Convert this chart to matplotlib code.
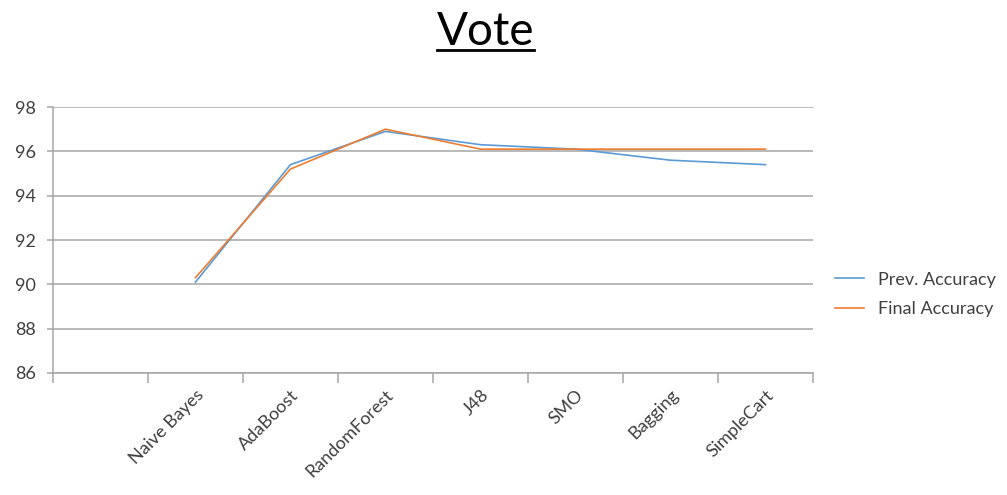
import matplotlib
matplotlib.use("Agg")
import matplotlib.pyplot as plt
from matplotlib.lines import Line2D

plt.rcParams['font.family'] = ['Lato', 'DejaVu Sans']

# classifier accuracies
classifiers = ['Naive Bayes', 'AdaBoost', 'RandomForest', 'J48', 'SMO', 'Bagging', 'SimpleCart']
prev_acc = [90.1, 95.4, 96.9, 96.3, 96.1, 95.6, 95.4]
final_acc = [90.3, 95.2, 97.0, 96.1, 96.1, 96.1, 96.1]
y_ticks = [86, 88, 90, 92, 94, 96, 98]

blue = '#5B9BD5'
orange = '#ED7D31'
grid_col = '#A6A6A6'
text_col = '#404040'

fig = plt.figure(figsize=(10.07, 4.95), dpi=100)
ax = fig.add_axes([0.0526, 0.2465, 0.7547, 0.5373])

# first category slot is left empty, data sits in slots 1..7
xs = [i + 1.5 for i in range(len(classifiers))]
ax.plot(xs, prev_acc, color=blue, lw=1.2, label='Prev. Accuracy')
ax.plot(xs, final_acc, color=orange, lw=1.2, label='Final Accuracy')

ax.set_xlim(0, len(classifiers) + 1)
ax.set_ylim(86, 98)
ax.set_yticks(y_ticks)
ax.set_yticklabels([str(v) for v in y_ticks], fontsize=13, color=text_col)
ax.yaxis.grid(True, color=grid_col, lw=1.1)
ax.set_axisbelow(True)

ax.set_xticks(range(len(classifiers) + 2))
ax.set_xticklabels([])
ax.set_xticks(xs, minor=True)
ax.set_xticklabels(classifiers, minor=True, rotation=45, ha='right',
                   rotation_mode='anchor', fontsize=13, color=text_col)
ax.tick_params(axis='x', which='major', length=7, color=grid_col, width=1.1)
ax.tick_params(axis='x', which='minor', length=0, pad=10)
ax.tick_params(axis='y', length=4, color=grid_col, width=1.1, pad=8)

for s in ['top', 'right']:
    ax.spines[s].set_visible(False)
for s in ['left', 'bottom']:
    ax.spines[s].set_color(grid_col)
    ax.spines[s].set_linewidth(1.1)

leg = fig.legend(loc='center left', bbox_to_anchor=(0.813, 0.405), frameon=False,
                 fontsize=13, handlelength=1.6, labelspacing=0.75)
for t in leg.get_texts():
    t.set_color(text_col)

# underlined title
title = fig.text(0.482, 0.935, 'Vote', fontsize=33, ha='center', va='center', color='black')
fig.canvas.draw()
bb = title.get_window_extent().transformed(fig.transFigure.inverted())
fig.add_artist(Line2D([bb.x0, bb.x1], [bb.y0 + 0.006, bb.y0 + 0.006],
                      transform=fig.transFigure, color='black', lw=2))

fig.savefig('out.png', dpi=100)
